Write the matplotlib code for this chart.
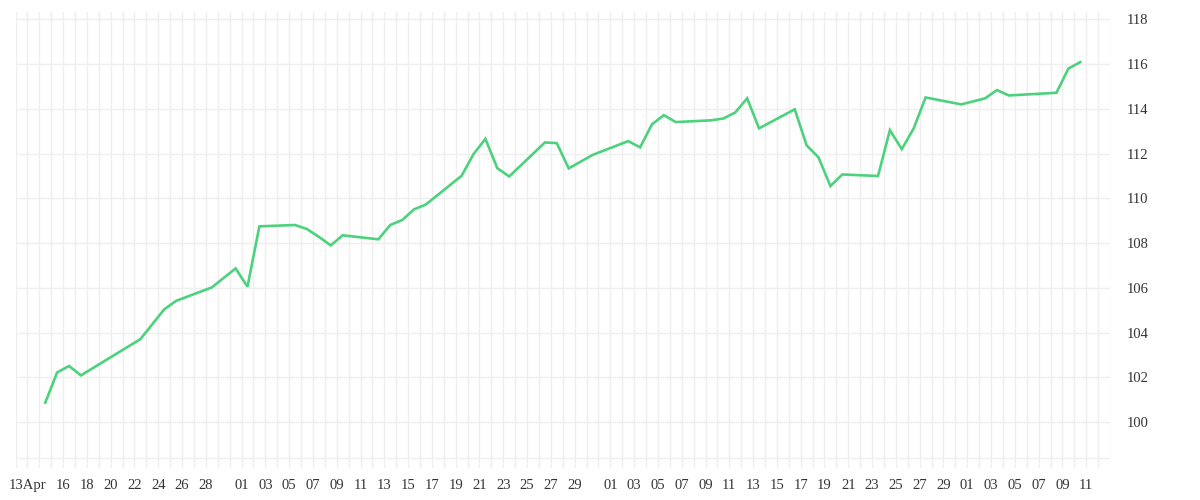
import matplotlib
matplotlib.use("Agg")
import matplotlib.pyplot as plt
import matplotlib.dates as mdates
import pandas as pd

# ---- data -------------------------------------------------------------
dates = [
    "2025-04-14", "2025-04-15", "2025-04-16", "2025-04-17", "2025-04-22",
    "2025-04-24", "2025-04-25", "2025-04-28", "2025-04-30", "2025-05-01",
    "2025-05-02", "2025-05-05", "2025-05-06", "2025-05-07", "2025-05-08",
    "2025-05-09", "2025-05-12", "2025-05-13", "2025-05-14", "2025-05-15",
    "2025-05-16", "2025-05-19", "2025-05-20", "2025-05-21", "2025-05-22",
    "2025-05-23", "2025-05-26", "2025-05-27", "2025-05-28", "2025-05-30",
    "2025-06-02", "2025-06-03", "2025-06-04", "2025-06-05", "2025-06-06",
    "2025-06-09", "2025-06-10", "2025-06-11", "2025-06-12", "2025-06-13",
    "2025-06-16", "2025-06-17", "2025-06-18", "2025-06-19", "2025-06-20",
    "2025-06-23", "2025-06-24", "2025-06-25", "2025-06-26", "2025-06-27",
    "2025-06-30", "2025-07-02", "2025-07-03", "2025-07-04", "2025-07-08",
    "2025-07-09", "2025-07-10",
]
values = [
    100.87, 102.22, 102.51, 102.09, 103.71,
    105.04, 105.42, 106.02, 106.87, 106.05,
    108.75, 108.81, 108.63, 108.28, 107.90,
    108.35, 108.17, 108.81, 109.03, 109.51,
    109.73, 111.01, 111.98, 112.66, 111.35,
    110.98, 112.50, 112.47, 111.34, 111.94,
    112.56, 112.28, 113.31, 113.72, 113.41,
    113.49, 113.57, 113.84, 114.47, 113.13,
    113.98, 112.37, 111.83, 110.55, 111.07,
    111.00, 113.05, 112.20, 113.13, 114.51,
    114.20, 114.47, 114.84, 114.60, 114.72,
    115.80, 116.09,
]
tick_dates = [
    "2025-04-13", "2025-04-16", "2025-04-18", "2025-04-20", "2025-04-22",
    "2025-04-24", "2025-04-26", "2025-04-28", "2025-05-01", "2025-05-03",
    "2025-05-05", "2025-05-07", "2025-05-09", "2025-05-11", "2025-05-13",
    "2025-05-15", "2025-05-17", "2025-05-19", "2025-05-21", "2025-05-23",
    "2025-05-25", "2025-05-27", "2025-05-29", "2025-06-01", "2025-06-03",
    "2025-06-05", "2025-06-07", "2025-06-09", "2025-06-11", "2025-06-13",
    "2025-06-15", "2025-06-17", "2025-06-19", "2025-06-21", "2025-06-23",
    "2025-06-25", "2025-06-27", "2025-06-29", "2025-07-01", "2025-07-03",
    "2025-07-05", "2025-07-07", "2025-07-09", "2025-07-11",
]
tick_labels = [
    "13Apr", "16", "18", "20", "22", "24", "26", "28", "01", "03",
    "05", "07", "09", "11", "13", "15", "17", "19", "21", "23",
    "25", "27", "29", "01", "03", "05", "07", "09", "11", "13",
    "15", "17", "19", "21", "23", "25", "27", "29", "01", "03",
    "05", "07", "09", "11",
]
y_ticks = [100, 102, 104, 106, 108, 110, 112, 114, 116, 118]

# ---- style ------------------------------------------------------------
LINE = "#4cd27c"
GRID = "#efefef"
TEXT = "#333333"
FONT = ["Liberation Serif", "DejaVu Serif"]

fig = plt.figure(figsize=(12, 5), dpi=100)
ax = fig.add_axes([15.5 / 1200, 1 - 468 / 500, (1110 - 15.5) / 1200, (468 - 12) / 500])

x = pd.to_datetime(dates) + pd.Timedelta(hours=12)
ax.plot(x, values, color=LINE, lw=1.9, solid_joinstyle="miter", zorder=3)

ax.set_xlim(pd.Timestamp("2025-04-12"), pd.Timestamp("2025-07-13"))
ax.set_ylim(97.95, 118.33)

# daily vertical grid
ax.xaxis.set_minor_locator(mdates.DayLocator(interval=1))
ax.grid(which="minor", axis="x", color=GRID, lw=1.0, zorder=0)
ax.set_xticks(pd.to_datetime(tick_dates))
ax.set_xticklabels(tick_labels)
ax.grid(which="major", axis="x", color=GRID, lw=1.0, zorder=0)

# horizontal grid
ax.yaxis.tick_right()
ax.set_yticks(y_ticks)
ax.set_yticklabels([str(v) for v in y_ticks])
ax.grid(which="major", axis="y", color=GRID, lw=1.0, zorder=0)
ax.axhline(98.38, color=GRID, lw=1.0, zorder=0)

for s in ax.spines.values():
    s.set_visible(False)

ax.tick_params(axis="x", which="both", length=0, pad=8, labelsize=10.5, labelcolor=TEXT)
ax.tick_params(axis="y", which="both", length=0, pad=12, labelsize=10.5, labelcolor=TEXT)
for lab in ax.get_xticklabels() + ax.get_yticklabels():
    lab.set_family(FONT)

fig.savefig("out.png", dpi=100, facecolor="white")
